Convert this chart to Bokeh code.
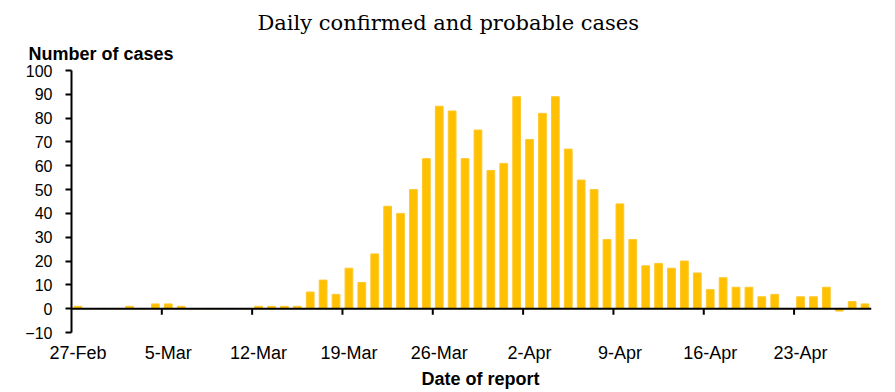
import pandas as pd
from bokeh.plotting import figure
from bokeh.models import FixedTicker, Title, ColumnDataSource, Range1d, Span
from bokeh.embed import file_html
from bokeh.resources import INLINE

# ---- data ----
start_date = "2020-02-27"
cases = [1, 0, 0, 0, 1, 0, 2, 2, 1, 0, 0, 0, 0, 0, 1, 1, 1, 1, 7, 12,
         6, 17, 11, 23, 43, 40, 50, 63, 85, 83, 63, 75, 58, 61, 89, 71,
         82, 89, 67, 54, 50, 29, 44, 29, 18, 19, 17, 20, 15, 8, 13, 9,
         9, 5, 6, 0, 5, 5, 9, -1, 3, 2]
tick_labels = ["27-Feb", "5-Mar", "12-Mar", "19-Mar", "26-Mar", "2-Apr",
               "9-Apr", "16-Apr", "23-Apr"]
y_ticks = [-10, 0, 10, 20, 30, 40, 50, 60, 70, 80, 90, 100]

dates = pd.date_range(start_date, periods=len(cases), freq="D")
idx = list(range(len(cases)))
src = ColumnDataSource(dict(x=idx, cases=cases,
                            date=[d.strftime("%d-%b") for d in dates]))

label_pos = [i for i in idx if i % 7 == 0]
week_bounds = [i - 0.5 for i in label_pos if i > 0]

FONT = "Liberation Sans"

p = figure(width=895, height=392,
           x_range=Range1d(-0.5, len(cases) - 0.5),
           y_range=Range1d(y_ticks[0], y_ticks[-1]),
           output_backend="svg", toolbar_location=None,
           min_border_left=71, min_border_right=24, min_border_top=70,
           min_border_bottom=60)
p.outline_line_color = None
p.grid.visible = False
p.background_fill_color = "white"
p.border_fill_color = "white"

p.vbar(x="x", top="cases", bottom=0, width=0.6, source=src,
       fill_color="#FFC000", line_color="#FFC72A", line_width=1)

# y axis
ya = p.yaxis[0]
ya.ticker = FixedTicker(ticks=y_ticks)
ya.axis_line_color = "black"
ya.axis_line_width = 2
ya.major_tick_line_color = "black"
ya.major_tick_line_width = 2
ya.major_tick_out = 6
ya.major_tick_in = 0
ya.minor_tick_line_color = None
ya.major_label_standoff = 13
ya.major_label_text_font = FONT
ya.major_label_text_font_size = "16px"
ya.major_label_text_color = "black"

# x axis (labels only, at the bottom)
xa = p.xaxis[0]
xa.ticker = FixedTicker(ticks=label_pos)
xa.major_label_overrides = {pos: lab for pos, lab in zip(label_pos, tick_labels)}
xa.axis_line_color = None
xa.major_tick_line_color = None
xa.major_tick_out = 0
xa.major_tick_in = 0
xa.minor_tick_line_color = None
xa.minor_tick_out = 0
xa.major_label_standoff = 10
xa.major_label_text_font = FONT
xa.major_label_text_font_size = "18px"
xa.major_label_text_color = "black"

x_title = Title(text="Date of report", align="left", offset=350,
                text_font=FONT, text_font_size="18px",
                text_font_style="bold", text_color="black", standoff=2)
p.add_layout(x_title, "below")

# zero line with week tick marks
p.add_layout(Span(location=0, dimension="width", line_color="black",
                  line_width=2))
p.segment(x0=week_bounds, y0=[0] * len(week_bounds),
          x1=week_bounds, y1=[-2.5] * len(week_bounds),
          line_color="black", line_width=2)

# titles
p.title.text = "Daily confirmed and probable cases"
p.title.align = "left"
p.title.offset = 186
p.title.text_font = "DejaVu Serif"
p.title.text_font_size = "21px"
p.title.text_font_style = "normal"
p.title.text_color = "black"
p.title.standoff = 2

sub_title = Title(text="Number of cases", align="left", offset=-43,
                  text_font=FONT, text_font_size="18px",
                  text_font_style="bold", text_color="black", standoff=13)
p.add_layout(sub_title, "above")

open("out.html", "w").write(file_html(p, INLINE))
